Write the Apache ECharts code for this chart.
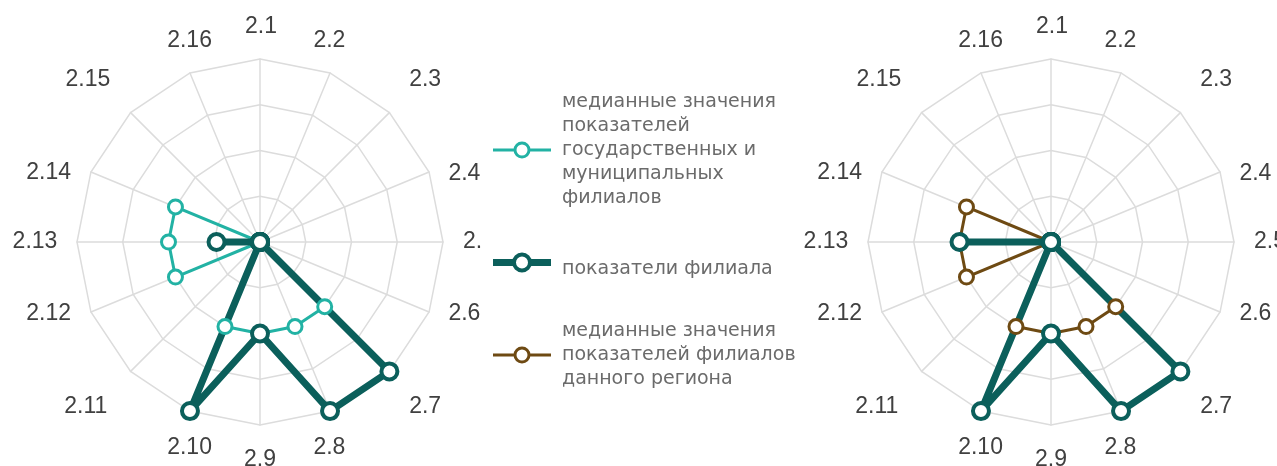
<!DOCTYPE html>
<html>
<head>
<meta charset="utf-8">
<script src="https://cdn.jsdelivr.net/npm/echarts@6/dist/echarts.min.js"></script>
<style>
  html, body { margin: 0; padding: 0; background: #fff; }
  #main { width: 1277px; height: 466px; }
</style>
</head>
<body>
<div id="main"></div>
<script>
// показатели 2.1 ... 2.16 (по часовой стрелке от верха)
var indicators = ['2.1', '2.2', '2.3', '2.4', '2.5', '2.6', '2.7', '2.8',
                  '2.9', '2.10', '2.11', '2.12', '2.13', '2.14', '2.15', '2.16'];
var ringMax = 4;

var nameState = 'медианные значения показателей государственных и муниципальных филиалов';
var nameBranch = 'показатели филиала';
var nameRegion = 'медианные значения показателей филиалов данного региона';

// левая диаграмма
var stateLeft  = [0, 0, 0, 0, 0, 0, 2, 2, 2, 2, 0, 2, 2, 2, 0, 0];
var branchLeft = [0, 0, 0, 0, 0, 0, 4, 4, 2, 4, 0, 0, 0.95, 0, 0, 0];
// правая диаграмма
var regionRight = [0, 0, 0, 0, 0, 0, 2, 2, 2, 2, 0, 2, 2, 2, 0, 0];
var branchRight = [0, 0, 0, 0, 0, 0, 4, 4, 2, 4, 0, 0, 2, 0, 0, 0];

var cLight = '#22b2a4', cDark = '#0b5f5b', cBrown = '#6e4a13';
var legendColor = '#6b6b6b', legendFont = 'DejaVu Sans, sans-serif';

// сдвиг подписей осей (как в excel), px: [dx, dy]
var nameShift = [[1, 3], [-14, 0], [11, -8], [3, 15], [1, 0], [3, -12], [11, 11], [-14, 4],
                 [0, 0], [13, 4], [-20, 11], [-10, -12], [-7, 0], [-10, 14], [-18, -8], [13, 0]];

// echarts кладёт оси против часовой стрелки -> разворачиваем порядок
var order = [0];
for (var i = indicators.length - 1; i > 0; i--) order.push(i);
function cw(arr) { return order.map(function (k) { return arr[k]; }); }

var nameRich = {};
nameShift.forEach(function (s, k) {
    var dx = s[0] * 2, dy = s[1] * 2;
    nameRich['n' + k] = {
        fontSize: 23, color: '#404040', fontFamily: 'Liberation Sans, Arial, sans-serif',
        padding: [Math.max(dy, 0), Math.max(-dx, 0), Math.max(-dy, 0), Math.max(dx, 0)]
    };
});

function radarCfg(cx) {
    return {
        center: [cx, 242],
        radius: 183,
        startAngle: 90,
        splitNumber: 4,
        shape: 'polygon',
        nameGap: 35,
        indicator: cw(indicators).map(function (n) { return { name: n, min: 0, max: ringMax }; }),
        axisName: {
            color: '#404040', fontSize: 23, fontFamily: 'Liberation Sans, Arial, sans-serif',
            align: 'center', verticalAlign: 'middle',
            formatter: function (n) { return '{n' + indicators.indexOf(n) + '|' + n + '}'; },
            rich: nameRich
        },
        axisLine: { lineStyle: { color: '#dcdcdc', width: 1.5 } },
        splitLine: { lineStyle: { color: '#dcdcdc', width: 1.5 } },
        splitArea: { show: false }
    };
}

// линия без маркеров
function lineSeries(ri, name, vals, color, w, z) {
    return {
        type: 'radar', radarIndex: ri, name: name, z: z,
        symbol: 'none',
        lineStyle: { color: color, width: w },
        itemStyle: { color: color },
        data: [{ value: cw(vals), name: name }]
    };
}
// только маркеры
function markSeries(ri, name, vals, color, size, bw, z) {
    return {
        type: 'radar', radarIndex: ri, name: name, z: z,
        symbol: 'circle', symbolSize: size,
        lineStyle: { width: 0, opacity: 0 },
        itemStyle: { color: '#fff', borderColor: color, borderWidth: bw },
        data: [{ value: cw(vals), name: name }]
    };
}

function icon(bar, rOut, rIn) {
    var h = 10, y0 = h - bar / 2, y1 = h + bar / 2, cx = 29;
    return 'path://M0 ' + y0 + 'H' + (cx - rIn) + 'V' + y1 + 'H0Z' +
        'M' + (cx + rIn) + ' ' + y0 + 'H58V' + y1 + 'H' + (cx + rIn) + 'Z' +
        'M' + cx + ' ' + (h - rOut) + 'A' + rOut + ' ' + rOut + ' 0 1 1 ' + cx + ' ' + (h + rOut) +
        'A' + rOut + ' ' + rOut + ' 0 1 1 ' + cx + ' ' + (h - rOut) + 'Z' +
        'M' + cx + ' ' + (h - rIn) + 'A' + rIn + ' ' + rIn + ' 0 1 0 ' + cx + ' ' + (h + rIn) +
        'A' + rIn + ' ' + rIn + ' 0 1 0 ' + cx + ' ' + (h - rIn) + 'Z';
}

var legendText = {};
legendText[nameState] = 'медианные значения\nпоказателей\nгосударственных и\nмуниципальных\nфилиалов';
legendText[nameBranch] = '{b|показатели филиала}';
legendText[nameRegion] = 'медианные значения\nпоказателей филиалов\nданного региона';

var myChart = echarts.init(document.getElementById('main'));
myChart.setOption({
    animation: false,
    legend: {
        orient: 'vertical',
        left: 481,
        top: 90,
        padding: [0, 0, 0, 12],
        backgroundColor: '#fff',
        z: 10,
        itemWidth: 58,
        itemHeight: 20,
        itemGap: 36,
        selectedMode: false,
        data: [
            { name: nameState, icon: icon(3, 8.5, 5.5), itemStyle: { color: cLight, borderWidth: 0 } },
            { name: nameBranch, icon: icon(7, 10, 6), itemStyle: { color: cDark, borderWidth: 0 } },
            { name: nameRegion, icon: icon(3, 8.5, 5.5), itemStyle: { color: cBrown, borderWidth: 0 },
              textStyle: { padding: [4, 0, 4, 6] } }
        ],
        formatter: function (n) { return legendText[n]; },
        textStyle: {
            color: legendColor,
            fontSize: 19,
            lineHeight: 24,
            fontFamily: legendFont,
            padding: [0, 0, 0, 6],
            rich: {
                b: { color: legendColor, fontSize: 19, lineHeight: 24, fontFamily: legendFont, padding: [14, 0, 0, 0] }
            }
        }
    },
    radar: [radarCfg(260), radarCfg(1051)],
    series: [
        lineSeries(0, nameState, stateLeft, cLight, 3, 2),
        lineSeries(0, nameBranch, branchLeft, cDark, 7, 3),
        markSeries(0, nameState, stateLeft, cLight, 14, 3, 4),
        markSeries(0, nameBranch, branchLeft, cDark, 16, 4, 5),

        lineSeries(1, nameRegion, regionRight, cBrown, 3, 2),
        lineSeries(1, nameBranch, branchRight, cDark, 7, 3),
        markSeries(1, nameRegion, regionRight, cBrown, 14, 3, 4),
        markSeries(1, nameBranch, branchRight, cDark, 16, 4, 5)
    ]
});
</script>
</body>
</html>
